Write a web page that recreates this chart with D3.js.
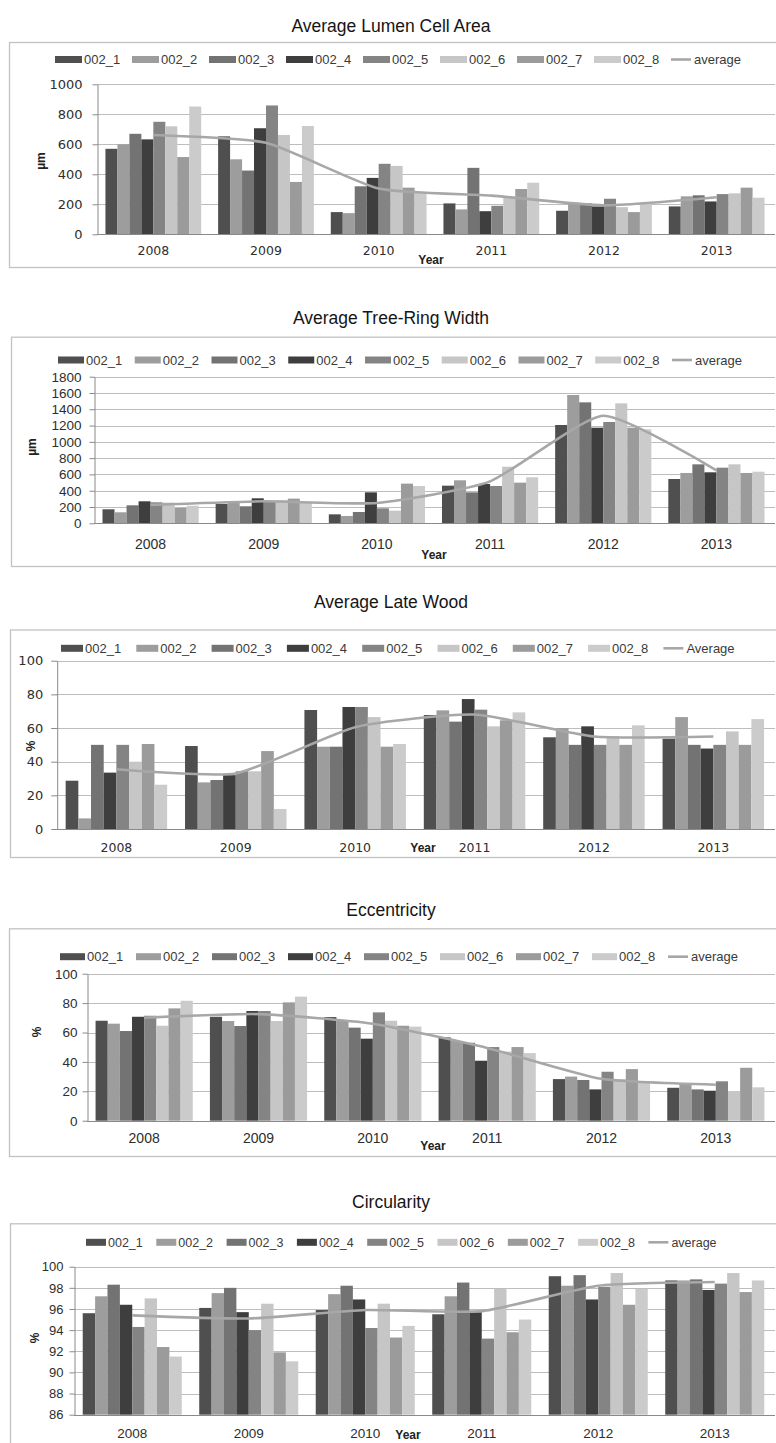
<!DOCTYPE html>
<html><head><meta charset="utf-8">
<script src="https://cdn.jsdelivr.net/npm/d3@7/dist/d3.min.js"></script>
<style>
html,body{margin:0;padding:0;background:#fff;}
svg{display:block;}
</style></head><body>
<svg id="chart" width="776" height="1443"></svg>
<script>
// ---------- DATA ----------
const years = ["2008", "2009", "2010", "2011", "2012", "2013"];
const seriesNames = ["002_1", "002_2", "002_3", "002_4", "002_5", "002_6", "002_7", "002_8"];

// Average Lumen Cell Area (µm), one row per series
const lumenValues = [
  [570, 653, 148, 206, 157, 186],
  [600, 500, 141, 166, 208, 253],
  [670, 425, 320, 443, 206, 260],
  [633, 707, 376, 154, 186, 219],
  [750, 859, 470, 190, 237, 268],
  [720, 662, 456, 246, 181, 273],
  [515, 349, 311, 302, 148, 311],
  [852, 722, 275, 344, 205, 244]
];
const lumenAverage = [662, 610, 305, 258, 193, 247];
const lumenTicks = [0, 200, 400, 600, 800, 1000];

// Average Tree-Ring Width (µm)
const ringValues = [
  [172, 237, 110, 462, 1207, 544],
  [135, 262, 90, 528, 1575, 618],
  [221, 209, 139, 380, 1485, 724],
  [270, 307, 380, 483, 1174, 626],
  [258, 274, 184, 458, 1244, 683],
  [254, 282, 155, 695, 1473, 724],
  [188, 303, 487, 499, 1174, 618],
  [215, 262, 458, 565, 1154, 634]
];
const ringAverage = [226, 270, 250, 515, 1320, 650];
const ringTicks = [0, 200, 400, 600, 800, 1000, 1200, 1400, 1600, 1800];

// Average Late Wood (%)
const lateValues = [
  [28.7, 49.3, 70.7, 67.7, 54.5, 53.7],
  [6.3, 27.7, 48.9, 70.5, 60.0, 66.5],
  [50.0, 29.1, 48.9, 63.8, 50.0, 50.0],
  [33.5, 32.0, 72.5, 77.2, 61.0, 47.8],
  [50.0, 34.3, 72.5, 70.9, 50.0, 50.0],
  [40.0, 34.3, 66.5, 61.0, 55.0, 58.0],
  [50.5, 46.3, 48.9, 64.6, 50.0, 50.0],
  [26.3, 11.9, 50.5, 69.3, 61.6, 65.3]
];
const lateAverage = [35.5, 33.0, 60.5, 68.0, 55.0, 55.0];
const percentTicks = [0, 20, 40, 60, 80, 100];

// Eccentricity (%)
const eccValues = [
  [68.0, 70.7, 70.5, 56.7, 28.3, 22.4],
  [66.0, 67.8, 68.0, 54.2, 30.0, 25.4],
  [61.0, 64.4, 63.3, 53.0, 27.7, 21.3],
  [70.7, 74.6, 55.8, 40.8, 21.3, 20.4],
  [71.4, 74.6, 73.7, 50.1, 33.3, 26.8],
  [64.6, 67.8, 68.0, 47.0, 28.3, 20.2],
  [76.4, 80.5, 64.6, 50.1, 35.1, 36.0],
  [81.6, 84.4, 64.0, 46.0, 26.0, 22.7]
];
const eccAverage = [70.0, 72.5, 66.0, 49.5, 28.5, 24.5];

// Circularity (%)
const circValues = [
  [95.6, 96.1, 95.9, 95.5, 99.1, 98.7],
  [97.2, 97.5, 97.4, 97.2, 98.2, 98.7],
  [98.3, 98.0, 98.2, 98.5, 99.2, 98.8],
  [96.4, 95.7, 96.9, 95.7, 96.9, 97.8],
  [94.3, 94.0, 94.2, 93.2, 98.1, 98.4],
  [97.0, 96.5, 96.5, 97.9, 99.4, 99.4],
  [92.4, 91.9, 93.3, 93.8, 96.4, 97.6],
  [91.5, 91.05, 94.4, 95.0, 97.9, 98.7]
];
const circAverage = [95.4, 95.1, 95.9, 95.8, 98.2, 98.55];
const circTicks = [86, 88, 90, 92, 94, 96, 98, 100];

// ---------- STYLE / LAYOUT ----------
const seriesColors = ["#4f4f4f", "#9d9d9d", "#737373", "#3e3e3e", "#848484", "#c6c6c6", "#9b9b9b", "#cbcbcb"];
const avgColor = "#a7a7a7";
const SANS = "'Liberation Sans', Arial, sans-serif";
const VERD = "'DejaVu Sans', Verdana, sans-serif";

const panels = [
  { title: "Average Lumen Cell Area", titleY: 32, boxX: 9, boxTop: 42, boxBottom: 267,
    values: lumenValues, average: lumenAverage, ticks: lumenTicks, domain: [0, 1000],
    axisX: 97, yTop: 84.3, yBottom: 234.3, tickFont: "13px " + VERD, tickPad: 10, tickSize: 5,
    xFont: "12.5px " + VERD, xPad: 12, yearX: 431, yearY: 264,
    yTitle: "µm", yTitleX: 41, yTitleY: 161,
    legendY: 59.5, legendX0: 55, legendStep: 77, swW: 27, legendFont: "13px " + SANS, avgLabel: "average" },
  { title: "Average Tree-Ring Width", titleY: 324, boxX: 11, boxTop: 336.7, boxBottom: 566,
    values: ringValues, average: ringAverage, ticks: ringTicks, domain: [0, 1800],
    axisX: 94, yTop: 376.7, yBottom: 523.3, tickFont: "13.5px " + SANS, tickPad: 8, tickSize: 5,
    xFont: "14px " + SANS, xPad: 16, yearX: 434, yearY: 559,
    yTitle: "µm", yTitleX: 32, yTitleY: 447,
    legendY: 360, legendX0: 58, legendStep: 76.75, swW: 26, legendFont: "13px " + SANS, avgLabel: "average" },
  { title: "Average Late Wood", titleY: 608, boxX: 10, boxTop: 629.5, boxBottom: 857,
    values: lateValues, average: lateAverage, ticks: percentTicks, domain: [0, 100],
    axisX: 56.7, yTop: 660.7, yBottom: 829, tickFont: "13px " + VERD, tickPad: 8, tickSize: 6,
    xFont: "12.5px " + VERD, xPad: 14, yearX: 423, yearY: 852,
    yTitle: "%", yTitleX: 31, yTitleY: 746,
    legendY: 648.3, legendX0: 61, legendStep: 75.3, swW: 22, legendFont: "13px " + SANS, avgLabel: "Average" },
  { title: "Eccentricity", titleY: 916, boxX: 9, boxTop: 928.3, boxBottom: 1156,
    values: eccValues, average: eccAverage, ticks: percentTicks, domain: [0, 100],
    axisX: 87, yTop: 973.7, yBottom: 1120.7, tickFont: "13.5px " + SANS, tickPad: 5, tickSize: 5,
    xFont: "14px " + SANS, xPad: 12, yearX: 433, yearY: 1150,
    yTitle: "%", yTitleX: 37, yTitleY: 1032,
    legendY: 956.7, legendX0: 60, legendStep: 76, swW: 25, legendFont: "13px " + SANS, avgLabel: "average" },
  { title: "Circularity", titleY: 1208, boxX: 10, boxTop: 1223.3, boxBottom: 1460,
    values: circValues, average: circAverage, ticks: circTicks, domain: [86, 100],
    axisX: 74, yTop: 1266.7, yBottom: 1414.7, tickFont: "13px " + SANS, tickPad: 6, tickSize: 5,
    xFont: "13.5px " + SANS, xPad: 13, yearX: 408, yearY: 1439,
    yTitle: "%", yTitleX: 35, yTitleY: 1338,
    legendY: 1242.3, legendX0: 86, legendStep: 70.3, swW: 20, legendFont: "12.5px " + SANS, avgLabel: "average" }
];

const plotRight = 773;
const gridRight = 775;
const svg = d3.select("#chart");

panels.forEach(p => {
  const g = svg.append("g");

  // panel frame (cropped at the right edge in the reference)
  g.append("rect")
    .attr("x", p.boxX + 0.5).attr("y", p.boxTop + 0.5)
    .attr("width", 820).attr("height", p.boxBottom - p.boxTop)
    .attr("fill", "none").attr("stroke", "#c2c2c2").attr("stroke-width", 1.3);

  // title
  g.append("text")
    .attr("x", 391).attr("y", p.titleY)
    .attr("text-anchor", "middle")
    .style("font", "17.5px " + SANS).attr("fill", "#151515")
    .text(p.title);

  const x0 = d3.scaleBand().domain(years).range([p.axisX, plotRight])
    .paddingInner(0.15).paddingOuter(0.075);
  const x1 = d3.scaleBand().domain(seriesNames).range([0, x0.bandwidth()]);
  const y = d3.scaleLinear().domain(p.domain).range([p.yBottom, p.yTop]);

  // gridlines
  g.append("g").selectAll("line")
    .data(p.ticks.filter(t => t !== p.domain[0]))
    .join("line")
    .attr("x1", p.axisX).attr("x2", gridRight)
    .attr("y1", d => Math.round(y(d)) + 0.5).attr("y2", d => Math.round(y(d)) + 0.5)
    .attr("stroke", "#bdbdbd").attr("stroke-width", 1);

  // bars
  g.append("g").selectAll("g")
    .data(p.values)
    .join("g")
    .attr("fill", (d, i) => seriesColors[i])
    .each(function (row, i) {
      d3.select(this).selectAll("rect")
        .data(row)
        .join("rect")
        .attr("x", (d, j) => x0(years[j]) + x1(seriesNames[i]))
        .attr("y", d => y(d))
        .attr("width", x1.bandwidth())
        .attr("height", d => y(p.domain[0]) - y(d));
    });

  // y axis
  const yAxis = d3.axisLeft(y).tickValues(p.ticks).tickSize(p.tickSize)
    .tickSizeOuter(0).tickPadding(p.tickPad).tickFormat(d3.format("d"));
  const ya = g.append("g").attr("transform", `translate(${p.axisX + 0.5},0)`).call(yAxis);
  ya.select(".domain").attr("stroke", "#8a8a8a");
  ya.selectAll(".tick line").attr("stroke", "#8a8a8a");
  ya.selectAll(".tick text").style("font", p.tickFont).attr("fill", "#2e2e2e");

  // x axis
  const xAxis = d3.axisBottom(x0).tickSize(0).tickSizeOuter(0).tickPadding(p.xPad);
  const xa = g.append("g").attr("transform", `translate(0,${Math.round(p.yBottom) + 0.5})`).call(xAxis);
  xa.select(".domain").attr("stroke", "#8a8a8a").attr("d", `M${p.axisX},0H${gridRight}`);
  xa.selectAll(".tick text").style("font", p.xFont).attr("fill", "#2e2e2e");

  // axis titles
  g.append("text")
    .attr("x", p.yearX).attr("y", p.yearY).attr("text-anchor", "middle")
    .style("font", "bold 12px " + SANS).attr("fill", "#222")
    .text("Year");
  g.append("text")
    .attr("transform", `translate(${p.yTitleX},${p.yTitleY}) rotate(-90)`)
    .attr("text-anchor", "middle").attr("dy", "0.35em")
    .style("font", "bold 12px " + SANS).attr("fill", "#222")
    .text(p.yTitle);

  // average line
  const line = d3.line()
    .x((d, j) => x0(years[j]) + x0.bandwidth() / 2)
    .y(d => y(d))
    .curve(d3.curveCardinal.tension(0.45));
  g.append("path").datum(p.average)
    .attr("d", line).attr("fill", "none")
    .attr("stroke", avgColor).attr("stroke-width", 2.6);

  // legend
  const lg = g.append("g");
  seriesNames.forEach((name, i) => {
    const lx = p.legendX0 + i * p.legendStep;
    lg.append("rect").attr("x", lx).attr("y", p.legendY - 3.5)
      .attr("width", p.swW).attr("height", 7).attr("fill", seriesColors[i]);
    lg.append("text").attr("x", lx + p.swW + 2).attr("y", p.legendY).attr("dy", "0.35em")
      .style("font", p.legendFont).attr("fill", "#3a3a3a").text(name);
  });
  const ax = p.legendX0 + seriesNames.length * p.legendStep;
  lg.append("line").attr("x1", ax).attr("x2", ax + 20)
    .attr("y1", p.legendY).attr("y2", p.legendY)
    .attr("stroke", avgColor).attr("stroke-width", 2.6);
  lg.append("text").attr("x", ax + 23).attr("y", p.legendY).attr("dy", "0.35em")
    .style("font", p.legendFont).attr("fill", "#3a3a3a").text(p.avgLabel);
});
</script>
</body></html>
